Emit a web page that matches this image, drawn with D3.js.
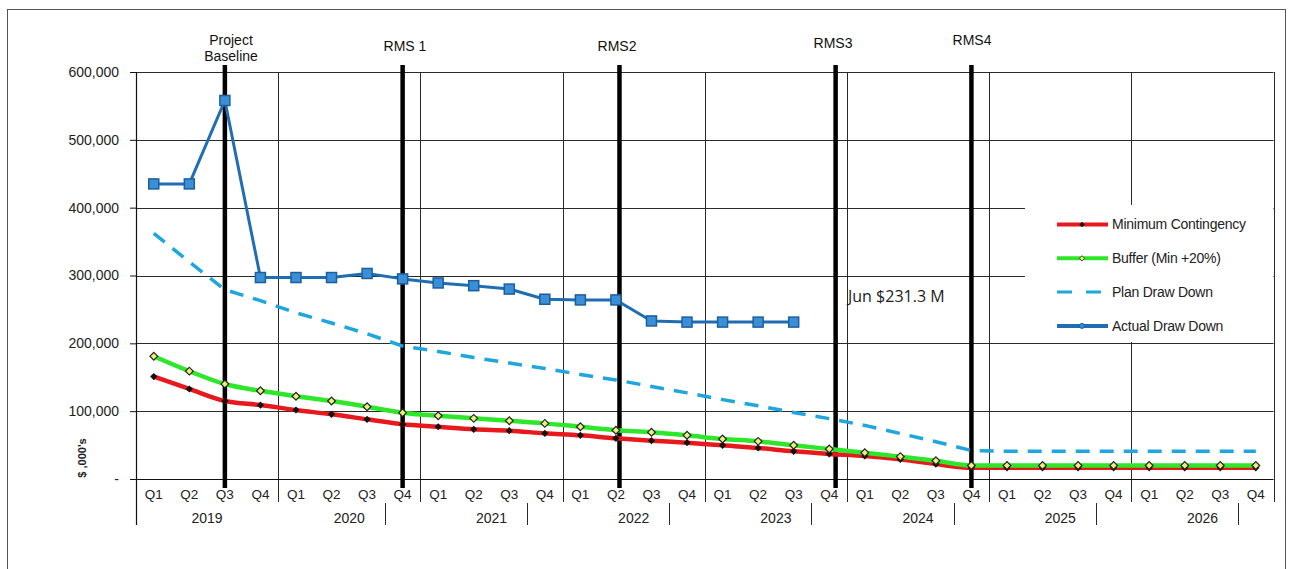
<!DOCTYPE html>
<html>
<head>
<meta charset="utf-8">
<script src="https://cdn.jsdelivr.net/npm/d3@7/dist/d3.min.js"></script>
<style>
  html, body { margin: 0; padding: 0; background: #fff; }
  svg { display: block; font-family: "Liberation Sans", Arial, sans-serif; }
</style>
</head>
<body>
<svg id="chart" width="1289" height="569"></svg>
<script>
// Contingency draw-down by quarter, 2019 Q1 to 2026 Q4 ($,000's)
const years = [2019, 2020, 2021, 2022, 2023, 2024, 2025, 2026];
const quarters = ["Q1", "Q2", "Q3", "Q4"];

const minContingency = [
  151000, 132700, 115000, 109000,
  101700, 95400, 88000, 80600,
  77000, 73300, 71200, 67400,
  64400, 60000, 56500, 53500,
  49600, 45700, 40800, 36900,
  33900, 29000, 22000, 16500,
  16500, 16500, 16500, 16500,
  16500, 16500, 16500, 16500
];
const bufferMin20 = [
  181000, 159000, 140000, 130000,
  122000, 115000, 106600, 97800,
  93300, 89400, 86000, 82000,
  77000, 72000, 69000, 64400,
  59000, 55500, 49700, 44200,
  38800, 33000, 27000, 19800,
  19800, 19800, 19800, 19800,
  19800, 19800, 19800, 19800
];
const planDrawDown = [
  362000, 320000, 279000, 263000,
  245000, 230000, 214000, 196000,
  188000, 179000, 171000, 163000,
  154000, 146000, 136500, 127000,
  117000, 108000, 98000, 89000,
  79000, 67000, 55000, 42000,
  41000, 41000, 41000, 41000,
  41000, 41000, 41000, 41000
];
const actualDrawDown = [
  435000, 435000, 558000, 297000,
  297000, 297000, 303000, 295000,
  289000, 285000, 280000, 265000,
  264000, 264000, 233000, 231300,
  231300, 231300, 231300
];

const yTicks = [0, 100000, 200000, 300000, 400000, 500000, 600000];

// Milestones: quarter index (fraction = position within the quarter)
const milestoneNames = [["Project", "Baseline"], ["RMS 1"], ["RMS2"], ["RMS3"], ["RMS4"]];
const milestoneAt = [2, 7, 13.1, 19.18, 23];

const svg = d3.select("#chart");

const plot = { left: 136, right: 1273.6, top: 72, bottom: 479 };
const n = years.length * quarters.length;
const idx = d3.range(n);

const x = d3.scaleBand().domain(idx).range([plot.left, plot.right]).paddingInner(0).paddingOuter(0);
const step = x.step();
const xc = i => x(i) + step / 2;
const xm = d3.scaleLinear().domain([0, n]).range([plot.left + step / 2, plot.right + step / 2]);
const y = d3.scaleLinear().domain([0, 600000]).range([plot.bottom, plot.top]);

// outer frame
svg.append("rect").attr("x", 7.5).attr("y", 9.5).attr("width", 1278).attr("height", 600)
  .attr("fill", "#fff").attr("stroke", "#555").attr("stroke-width", 1);

// horizontal gridlines
svg.append("g").selectAll("line").data(yTicks.filter(d => d > 0)).join("line")
  .attr("x1", plot.left).attr("x2", plot.right)
  .attr("y1", d => Math.round(y(d)) + 0.5).attr("y2", d => Math.round(y(d)) + 0.5)
  .attr("stroke", "#2a2a2a").attr("stroke-width", 1);

// vertical gridlines at year boundaries (extend down through the quarter row)
const yearBounds = d3.range(1, years.length + 1).map(k => k * 4);
svg.append("g").selectAll("line").data(yearBounds).join("line")
  .attr("x1", d => Math.round(x(d - 1) + step) + 0.5).attr("x2", d => Math.round(x(d - 1) + step) + 0.5)
  .attr("y1", plot.top).attr("y2", 502)
  .attr("stroke", "#2a2a2a").attr("stroke-width", 1);

// year-row separators
const yearSeps = d3.range(0, years.length - 1).map(k => 7 + 4 * k);
svg.append("g").selectAll("line").data(yearSeps).join("line")
  .attr("x1", d => Math.round(x(d)) + 0.5).attr("x2", d => Math.round(x(d)) + 0.5)
  .attr("y1", 503).attr("y2", 525)
  .attr("stroke", "#2a2a2a").attr("stroke-width", 1);

// left axis line and baseline
svg.append("line").attr("x1", plot.left + 0.5).attr("x2", plot.left + 0.5)
  .attr("y1", plot.top).attr("y2", 525).attr("stroke", "#111").attr("stroke-width", 1.2);
svg.append("line").attr("x1", plot.left - 6).attr("x2", plot.right)
  .attr("y1", plot.bottom + 0.5).attr("y2", plot.bottom + 0.5).attr("stroke", "#111").attr("stroke-width", 1.2);

// y axis
const yAxis = d3.axisLeft(y).tickValues(yTicks).tickSize(6).tickPadding(11)
  .tickFormat(d => d === 0 ? "-" : d3.format(",")(d));
const gy = svg.append("g").attr("transform", `translate(${plot.left},0)`).call(yAxis);
gy.select(".domain").remove();
gy.selectAll(".tick line").attr("stroke", "#111");
gy.selectAll(".tick text").attr("font-size", 14).attr("fill", "#222")
  .attr("font-family", "'Liberation Sans', Arial, sans-serif");

svg.append("text").attr("transform", "translate(83,458) rotate(-90)")
  .attr("text-anchor", "middle").attr("dominant-baseline", "middle")
  .attr("font-size", 11).attr("font-weight", "bold").attr("fill", "#222").text("$ ,000's");

// x axis labels
svg.append("g").selectAll("text").data(idx).join("text")
  .attr("x", d => xc(d)).attr("y", 499).attr("text-anchor", "middle")
  .attr("font-size", 13.5).attr("fill", "#222").text(d => quarters[d % 4]);
svg.append("g").selectAll("text").data(years).join("text")
  .attr("x", (d, i) => x(i * 4) + step * 2).attr("y", 523).attr("text-anchor", "middle")
  .attr("font-size", 14).attr("fill", "#222").text(d => d);

// legend panel background
const lg = { x: 1025, y: 205, w: 248, h: 137 };
svg.append("rect").attr("x", lg.x).attr("y", lg.y).attr("width", lg.w).attr("height", lg.h).attr("fill", "#fff");

// milestone markers
const ms = svg.append("g");
milestoneAt.forEach((m, i) => {
  const mx = xm(m);
  ms.append("line").attr("x1", mx).attr("x2", mx).attr("y1", 65).attr("y2", 488)
    .attr("stroke", "#000").attr("stroke-width", 4.5);
});
const labelPos = [[231, 45], [405, 51], [617, 51], [833, 48], [972, 45]];
milestoneNames.forEach((lines, i) => {
  const t = ms.append("text").attr("text-anchor", "middle").attr("font-size", 14).attr("fill", "#111");
  lines.forEach((s, j) => {
    t.append("tspan").attr("x", labelPos[i][0]).attr("y", labelPos[i][1] + j * 16).text(s);
  });
});

// series
const colors = { min: "#e8191c", buf: "#2ee62a", plan: "#1ea6de", actual: "#1f6db3" };
const smooth = d3.line().x((d, i) => xc(i)).y(d => y(d)).curve(d3.curveMonotoneX);
const straight = d3.line().x((d, i) => xc(i)).y(d => y(d));

svg.append("path").datum(planDrawDown).attr("d", straight).attr("fill", "none")
  .attr("stroke", colors.plan).attr("stroke-width", 3.5).attr("stroke-dasharray", "14,10");

svg.append("path").datum(minContingency).attr("d", smooth).attr("fill", "none")
  .attr("stroke", colors.min).attr("stroke-width", 4.5).attr("stroke-linejoin", "round");
svg.append("path").datum(bufferMin20).attr("d", smooth).attr("fill", "none")
  .attr("stroke", colors.buf).attr("stroke-width", 4.5).attr("stroke-linejoin", "round");

// square diamonds (a square turned 45 degrees)
const diamond = size => d3.symbol().type(d3.symbolSquare).size(size)();
svg.append("g").selectAll("path").data(minContingency).join("path")
  .attr("transform", (d, i) => `translate(${xc(i)},${y(d)}) rotate(45)`)
  .attr("d", diamond(26)).attr("fill", "#111");
svg.append("g").selectAll("path").data(bufferMin20).join("path")
  .attr("transform", (d, i) => `translate(${xc(i)},${y(d)}) rotate(45)`)
  .attr("d", diamond(30)).attr("fill", "#f2ec7a").attr("stroke", "#222").attr("stroke-width", 1.2);

svg.append("path").datum(actualDrawDown).attr("d", straight).attr("fill", "none")
  .attr("stroke", colors.actual).attr("stroke-width", 3).attr("stroke-linejoin", "round");
svg.append("g").selectAll("rect").data(actualDrawDown).join("rect")
  .attr("x", (d, i) => xc(i) - 5).attr("y", d => y(d) - 5).attr("width", 10).attr("height", 10)
  .attr("fill", "#3a8fd6").attr("stroke", "#1c5f9e").attr("stroke-width", 1.5);

// annotation
svg.append("text").attr("x", 848).attr("y", 302).attr("font-family", "'Open Sans', Lato, sans-serif")
  .attr("font-size", 16).attr("fill", "#222").text("Jun $231.3 M");

// legend
const legendItems = [
  { name: "Minimum Contingency", color: colors.min, type: "min" },
  { name: "Buffer (Min +20%)", color: colors.buf, type: "buf" },
  { name: "Plan Draw Down", color: colors.plan, type: "plan" },
  { name: "Actual Draw Down", color: colors.actual, type: "actual" }
];
const lgRows = svg.append("g").selectAll("g").data(legendItems).join("g")
  .attr("transform", (d, i) => `translate(1057,${224.5 + i * 33.8})`);
lgRows.append("line").attr("x1", 0).attr("x2", 51).attr("y1", 0).attr("y2", 0)
  .attr("stroke", d => d.color).attr("stroke-width", d => d.type === "plan" ? 3 : 4)
  .attr("stroke-dasharray", d => d.type === "plan" ? "15,14" : null);
lgRows.filter(d => d.type === "min").append("path").attr("transform", "translate(25,0) rotate(45)")
  .attr("d", diamond(14)).attr("fill", "#111");
lgRows.filter(d => d.type === "buf").append("path").attr("transform", "translate(25,0) rotate(45)")
  .attr("d", diamond(14)).attr("fill", "#f2ec7a").attr("stroke", "#222").attr("stroke-width", 0.8);
lgRows.filter(d => d.type === "actual").append("circle").attr("cx", 25).attr("cy", 0).attr("r", 2.5)
  .attr("fill", "#3a8fd6").attr("stroke", "#1c5f9e").attr("stroke-width", 1);
lgRows.append("text").attr("x", 55).attr("y", 0).attr("dy", "0.35em")
  .attr("font-size", 14).attr("letter-spacing", "-0.25").attr("fill", "#222").text(d => d.name);
</script>
</body>
</html>
